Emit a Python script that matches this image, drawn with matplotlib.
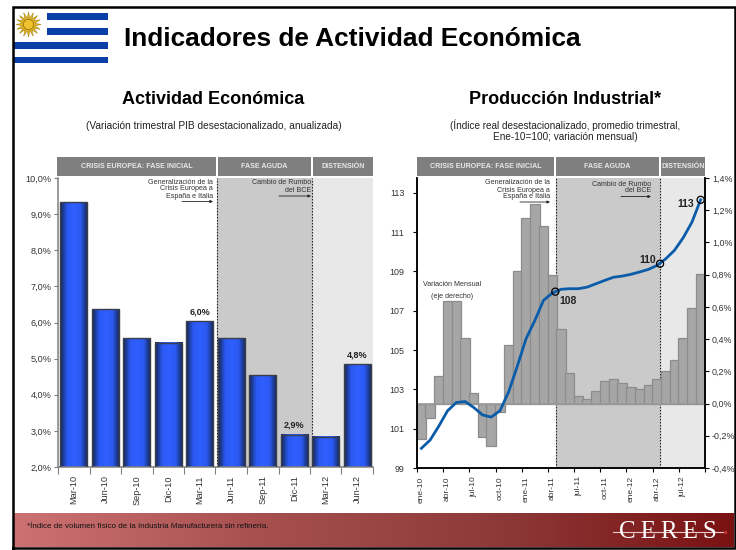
import numpy as np
import matplotlib
matplotlib.use("Agg")
import matplotlib.pyplot as plt
from matplotlib.colors import LinearSegmentedColormap
from matplotlib.ticker import FixedLocator, FixedFormatter, NullFormatter

plt.rcParams['font.family'] = ['Liberation Sans', 'DejaVu Sans']

# left chart
trimestres = ["Mar-10", "Jun-10", "Sep-10", "Dic-10", "Mar-11", "Jun-11",
              "Sep-11", "Dic-11", "Mar-12", "Jun-12"]
pib = [9.33, 6.37, 5.57, 5.44, 6.04, 5.57, 4.54, 2.89, 2.84, 4.84]
pib_labels = {4: "6,0%", 7: "2,9%", 9: "4,8%"}
pib_ticks = [2, 3, 4, 5, 6, 7, 8, 9, 10]
pib_ticklabels = ["2,0%", "3,0%", "4,0%", "5,0%", "6,0%", "7,0%", "8,0%", "9,0%", "10,0%"]

# right chart, one value per month from ene-10 to sep-12
meses = ["ene-10", "feb-10", "mar-10", "abr-10", "may-10", "jun-10", "jul-10", "ago-10", "sep-10",
         "oct-10", "nov-10", "dic-10", "ene-11", "feb-11", "mar-11", "abr-11", "may-11", "jun-11",
         "jul-11", "ago-11", "sep-11", "oct-11", "nov-11", "dic-11", "ene-12", "feb-12", "mar-12",
         "abr-12", "may-12", "jun-12", "jul-12", "ago-12", "sep-12"]
variacion = [-0.217, -0.087, 0.168, 0.636, 0.636, 0.41, 0.068, -0.205, -0.265, -0.05, 0.366,
             0.82, 1.15, 1.24, 1.10, 0.797, 0.46, 0.19, 0.05, 0.03, 0.08, 0.143, 0.155, 0.13,
             0.10, 0.093, 0.118, 0.155, 0.205, 0.273, 0.404, 0.596, 0.807]
indice = [100.0, 100.42, 101.13, 101.91, 102.33, 102.38, 102.08, 101.70, 101.59, 101.91, 102.87,
          104.19, 105.58, 106.5, 107.53, 107.9, 108.09, 108.12, 108.12, 108.2, 108.37, 108.54,
          108.7, 108.76, 108.85, 108.97, 109.1, 109.3, 109.64, 110.07, 110.71, 111.5, 112.64]
hito_x = [15.85, 27.85, 32.5]
hito_y = [107.97, 109.39, 112.64]
hito_labels = ["108", "110", "113"]
var_ticks = [-0.4, -0.2, 0.0, 0.2, 0.4, 0.6, 0.8, 1.0, 1.2, 1.4]
var_ticklabels = ["-0,4%", "-0,2%", "0,0%", "0,2%", "0,4%", "0,6%", "0,8%", "1,0%", "1,2%", "1,4%"]
ind_ticks = [99, 101, 103, 105, 107, 109, 111, 113]

W, H = 736, 550
fig = plt.figure(figsize=(W / 100, H / 100), dpi=100, facecolor="white")


def px_axes(x0, y0, x1, y1, **kw):
    return fig.add_axes([x0 / W, 1 - y1 / H, (x1 - x0) / W, (y1 - y0) / H], **kw)


# page background in pixel coordinates
bg = fig.add_axes([0, 0, 1, 1], zorder=0)
bg.set_xlim(0, W)
bg.set_ylim(H, 0)
bg.axis("off")

banner = LinearSegmentedColormap.from_list(
    "banner", ["#cd7272", "#a85050", "#8e3a3a", "#7a1212"])
bg.imshow(np.linspace(0, 1, 256)[None, :], extent=[14, 734, 547, 513], cmap=banner, aspect="auto")
bg.set_xlim(0, W)
bg.set_ylim(H, 0)

# frame
bg.plot([13, 13, 735, 735, 13], [548, 7, 7, 548, 548], color="black", lw=1.8, solid_joinstyle="miter")

# flag
for x0, y0, y1 in [(47, 13, 20), (47, 28, 35), (14, 42, 49), (14, 57, 63)]:
    bg.fill_between([x0, 108], y0, y1, color="#0b3fa8", lw=0)
bg.scatter([28], [24], s=330, marker=(16, 1, 0), color="#e5b425", edgecolor="#a98512", lw=0.4)
bg.scatter([28], [24], s=55, color="#f0c22e", edgecolor="#8a6a10", lw=0.5)

# titles
bg.text(124, 39, "Indicadores de Actividad Económica", fontsize=18.95, fontweight="bold", va="center")
bg.text(213, 99, "Actividad Económica", fontsize=13, fontweight="bold", ha="center", va="center")
bg.text(565, 99, "Producción Industrial*", fontsize=13, fontweight="bold", ha="center", va="center")
bg.text(214, 126, "(Variación trimestral PIB desestacionalizado, anualizada)", fontsize=7.25,
        ha="center", va="center", color="#222222")
bg.text(565, 125, "(Índice real desestacionalizado, promedio trimestral,", fontsize=7.2,
        ha="center", va="center", color="#222222")
bg.text(565, 137, "Ene-10=100; variación mensual)", fontsize=7.2,
        ha="center", va="center", color="#222222")

# phase headers
for x0, x1, label in [(57, 216, "CRISIS EUROPEA: FASE INICIAL"), (218, 311, "FASE AGUDA"),
                      (313, 373, "DISTENSIÓN"), (417, 554, "CRISIS EUROPEA: FASE INICIAL"),
                      (556, 659, "FASE AGUDA"), (661, 705, "DISTENSIÓN")]:
    bg.fill_between([x0, x1], 157, 176, color="#7f7f7f", lw=0)
    bg.text((x0 + x1) / 2, 166.5, label, color="#e8e8e8", fontsize=5.1, fontweight="bold",
            ha="center", va="center")

# footer
bg.text(27, 526, "*Índice de volumen físico de la Industria Manufacturera sin refinería.",
        fontsize=5.8, va="center", color="#111111")
bg.plot([613, 726], [531.5, 531.5], color="#e8c8c8", lw=0.8)
bg.scatter([725], [531.5], s=5, color="#c03030", lw=0, zorder=3)
bg.text(668, 532, "C\u2009E\u2009R\u2009E\u2009S", fontsize=18, family="Liberation Serif",
        color="white", ha="center", va="center")

# left chart
ax = px_axes(58, 178, 373, 467, zorder=2)
ax.patch.set_alpha(0)
x = np.arange(len(pib)) + 0.5
ax.axvspan(5.04, 8.05, color="#cacaca", lw=0, zorder=0)
ax.axvspan(8.05, 10, color="#e8e8e8", lw=0, zorder=0)
for pos in [5.04, 8.05]:
    ax.axvline(pos, color="#222222", lw=0.8, ls=(0, (1.5, 1.2)), zorder=1)

bar_cmap = LinearSegmentedColormap.from_list("bar", ["#14264f", "#2a58f0", "#2f5fff", "#2a58f0", "#14264f"])
bars = ax.bar(x, pib, width=0.87, bottom=0, facecolor="none", edgecolor="#3a3f4a", lw=1.0, zorder=3)
for b, v in zip(bars, pib):
    ax.imshow(np.linspace(0, 1, 64)[None, :], extent=[b.get_x(), b.get_x() + b.get_width(), 2, v],
              cmap=bar_cmap, aspect="auto", zorder=2)
ax.set_xlim(0, 10)
ax.set_ylim(2, 10)
for i, s in pib_labels.items():
    ax.annotate(s, (x[i], pib[i]), xytext=(0, 5), textcoords="offset points", ha="center",
                fontsize=6.5, fontweight="bold", color="#222222")

ax.xaxis.set_major_locator(FixedLocator(np.arange(0, 11)))
ax.xaxis.set_major_formatter(NullFormatter())
ax.xaxis.set_minor_locator(FixedLocator(x))
ax.xaxis.set_minor_formatter(FixedFormatter(trimestres))
ax.tick_params(axis="x", which="minor", length=0, pad=6, labelsize=6.6, labelrotation=90, labelcolor="#333333")
ax.tick_params(axis="x", which="major", length=5, color="#808080", width=0.8)
ax.set_yticks(pib_ticks, pib_ticklabels)
ax.tick_params(axis="y", length=3, color="#808080", width=0.8, labelsize=6.6, labelcolor="#333333", pad=1.5)
for side in ["top", "right"]:
    ax.spines[side].set_visible(False)
for side in ["left", "bottom"]:
    ax.spines[side].set_color("#808080")
    ax.spines[side].set_linewidth(1.1)

# right chart, bars on the right axis and index line on the left one
ax2 = px_axes(417, 178, 705, 468, zorder=2)
ax2.patch.set_alpha(0)
xm = np.arange(len(variacion)) + 0.5
ax2.axvspan(15.89, 27.88, color="#cacaca", lw=0, zorder=0)
ax2.axvspan(27.88, 33, color="#e8e8e8", lw=0, zorder=0)
for pos in [15.89, 27.88]:
    ax2.axvline(pos, color="#222222", lw=0.8, ls=(0, (1.5, 1.2)), zorder=1)
ax2.bar(xm, variacion, width=1.08, color="#a6a6a6", edgecolor="#8c8c8c", lw=0.9, zorder=2)
ax2.axhline(0, color="#999999", lw=1.2, zorder=3)
ax2.set_xlim(0, 33)
ax2.set_ylim(-0.4, 1.4)
ax2.xaxis.set_major_locator(FixedLocator(np.arange(0, 34, 3)))
ax2.xaxis.set_major_formatter(NullFormatter())
ax2.xaxis.set_minor_locator(FixedLocator(xm[::3]))
ax2.xaxis.set_minor_formatter(FixedFormatter(meses[::3]))
ax2.tick_params(axis="x", which="minor", length=0, pad=6, labelsize=6, labelrotation=90, labelcolor="#333333")
ax2.tick_params(axis="x", which="major", length=3, width=0.8)

axl = ax2.twinx()
axl.patch.set_alpha(0)
axl.yaxis.tick_left()
axl.plot(xm, indice, color="#0a5ca8", lw=2, zorder=4)
axl.scatter(hito_x, hito_y, s=26, facecolor="none", edgecolor="black", lw=0.9, zorder=5)
axl.set_ylim(99, 113.75)
axl.set_yticks(ind_ticks, [str(t) for t in ind_ticks])
axl.tick_params(axis="y", length=3, width=0.8, labelsize=6.4, labelcolor="#333333", pad=6)

# twinx moves the first axis ticks to the left, so set them after it
ax2.yaxis.tick_right()
ax2.set_yticks(var_ticks, var_ticklabels)
ax2.tick_params(axis="y", length=3, width=0.8, labelsize=6.4, labelcolor="#333333", pad=2)

for a in [ax2, axl]:
    a.spines["top"].set_visible(False)
    a.spines["left"].set_linewidth(1.1)
    a.spines["right"].set_linewidth(1.1)
    a.spines["bottom"].set_linewidth(1.1)

for (px, py), s in zip([(568, 301), (648, 260), (686, 204)], hito_labels):
    fig.text(px / W, 1 - py / H, s, fontsize=7.5, fontweight="bold", ha="center", va="center",
             color="#222222", zorder=6)

# notes on the phases
notes = fig.add_axes([0, 0, 1, 1], zorder=5)
notes.set_xlim(0, W)
notes.set_ylim(H, 0)
notes.axis("off")


def note(xr, ys, lines, arrow_x, arrow_y):
    for y, s in zip(ys, lines):
        notes.text(xr, y, s, fontsize=5.1, ha="right", va="center", color="#333333")
    notes.annotate("", xy=(xr, arrow_y), xytext=(arrow_x, arrow_y),
                   arrowprops=dict(arrowstyle="-|>", color="#222222", lw=0.6, mutation_scale=4,
                                   shrinkA=0, shrinkB=0))


gen = ["Generalización de la", "Crisis Europea a", "España e Italia"]
cam = ["Cambio de Rumbo", "del BCE"]
note(213, [182, 189, 196], gen, 182, 201.5)
note(311, [183, 190], cam, 279, 196)
note(550, [183, 190, 197], gen, 520, 202)
note(651, [184, 191], cam, 621, 196.5)
notes.text(452, 285, "Variación Mensual", fontsize=5.1, ha="center", va="center", color="#333333")
notes.text(452, 297, "(eje derecho)", fontsize=5.1, ha="center", va="center", color="#333333")

fig.savefig("out.png", dpi=100)
